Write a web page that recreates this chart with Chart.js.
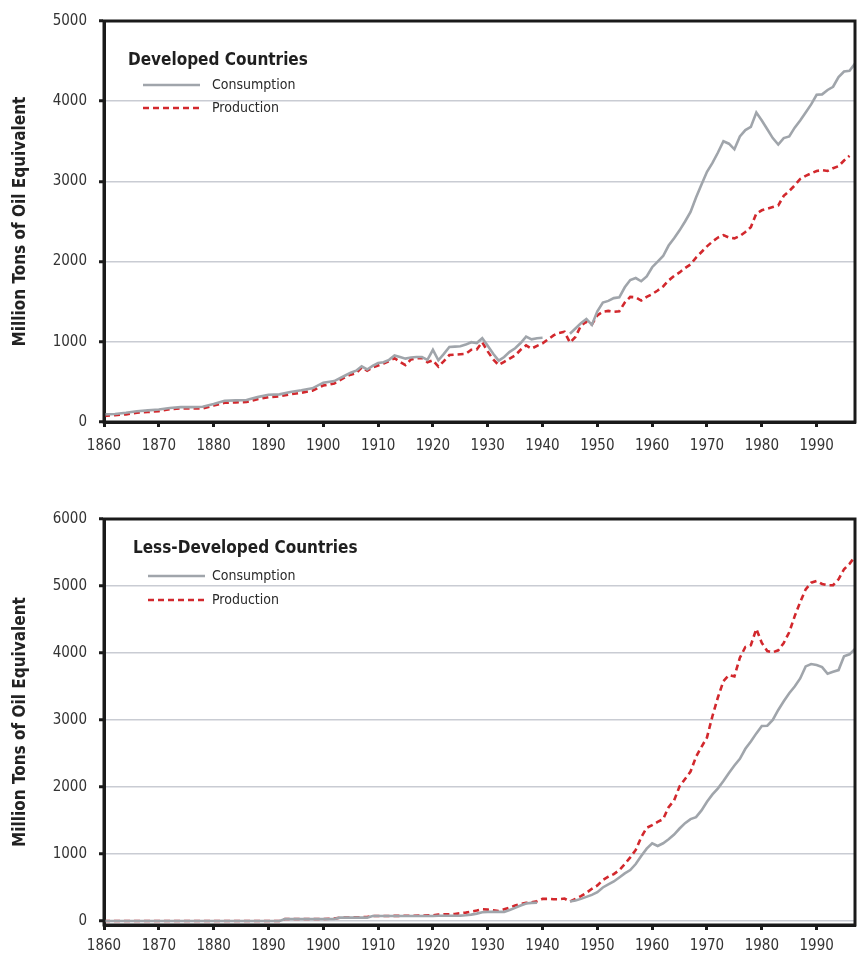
<!DOCTYPE html>
<html lang="en">
<head>
<meta charset="UTF-8">
<title>Energy Consumption and Production</title>
<script src="https://cdn.jsdelivr.net/npm/chart.js"></script>
<style>
  body { margin: 0; background: #fff; }
  .panel { position: relative; width: 859px; }
</style>
</head>
<body>
<div class="panel" style="height:480px"><canvas id="devChart" width="859" height="480"></canvas></div>
<div class="panel" style="height:474px"><canvas id="ldcChart" width="859" height="474"></canvas></div>

<script>
// Developed countries (million tons of oil equivalent)
const devYears = [1860,1862,1864,1866,1868,1870,1872,1874,1876,1878,1880,1882,1884,1886,1888,1890,1892,1894,1896,1898,1900,1902,1904,
  1905,1906,1907,1908,1909,1910,1911,1912,1913,1914,
  1915,1916,1917,1918,1919,1920,1921,1922,1923,1924,
  1925,1926,1927,1928,1929,1930,1931,1932,1933,1934,
  1935,1936,1937,1938,1939,1940,1941,1942,1943,1944,
  1945,1946,1947,1948,1949,1950,1951,1952,1953,1954,
  1955,1956,1957,1958,1959,1960,1961,1962,1963,1964,
  1965,1966,1967,1968,1969,1970,1971,1972,1973,1974,
  1975,1976,1977,1978,1979,1980,1981,1982,1983,1984,
  1985,1986,1987,1988,1989,1990,1991,1992,1993,1994,
  1995,1996,1997];
const devConsumption = [95,100,115,135,145,155,175,185,185,190,225,265,270,275,310,340,345,375,395,420,490,510,580,
  615,640,695,655,700,735,745,775,830,810,
  790,805,810,810,775,900,770,850,935,940,
  945,965,995,985,1045,950,850,765,810,875,
  920,985,1065,1030,1045,1050,null,null,null,null,
  1100,1165,1230,1285,1210,1380,1490,1510,1545,1555,
  1680,1770,1795,1755,1815,1930,2000,2070,2200,2290,
  2390,2500,2620,2800,2960,3120,3230,3360,3500,3470,
  3400,3560,3640,3680,3860,3760,3650,3540,3460,3540,
  3560,3670,3760,3860,3960,4080,4085,4140,4180,4300,
  4370,4380,4470];
const devProduction = [75,85,95,115,125,135,160,170,170,170,205,240,245,250,285,310,320,345,365,390,455,480,560,
  590,610,680,640,680,705,730,760,795,750,
  710,780,795,800,745,770,690,760,835,840,
  845,850,900,905,995,880,780,710,750,790,
  830,900,955,915,950,980,1030,1080,1110,1125,
  990,1060,1200,1250,1215,1330,1375,1385,1375,1380,
  1490,1560,1555,1515,1560,1595,1640,1690,1765,1820,
  1865,1920,1965,2050,2120,2190,2250,2300,2330,2300,
  2290,2320,2370,2430,2600,2640,2660,2680,2700,2820,
  2880,2950,3030,3070,3100,3130,3140,3130,3165,3190,
  3260,3320,null];

// Less-developed countries
const ldcYears = [1860,1865,1870,1875,1880,1885,1890,1892,1893,1896,1900,1902,1903,1906,1908,1909,1912,1915,1918,1920,
  1921,1922,1923,1924,1925,1926,1927,1928,1929,1930,
  1931,1932,1933,1934,1935,1936,1937,1938,1939,1940,
  1941,1942,1943,1944,1945,1946,1947,1948,1949,1950,
  1951,1952,1953,1954,1955,1956,1957,1958,1959,1960,
  1961,1962,1963,1964,1965,1966,1967,1968,1969,1970,
  1971,1972,1973,1974,1975,1976,1977,1978,1979,1980,
  1981,1982,1983,1984,1985,1986,1987,1988,1989,1990,
  1991,1992,1993,1994,1995,1996,1997];
const ldcConsumption = [0,0,0,0,0,0,0,0,30,30,30,30,50,50,50,75,75,75,75,75,
  77,77,77,78,80,85,95,110,130,136,
  136,136,136,165,195,230,262,270,273,null,
  null,null,null,null,290,305,330,360,390,430,
  500,545,590,650,710,760,850,970,1080,1160,
  1120,1160,1220,1290,1380,1460,1520,1550,1650,1780,
  1890,1980,2090,2210,2320,2420,2570,2680,2800,2910,
  2915,3000,3150,3280,3400,3500,3620,3800,3836,3820,
  3790,3690,3720,3745,3950,3980,4060];
const ldcProduction = [0,0,0,0,0,0,0,0,30,30,30,35,50,55,60,75,75,78,80,85,
  95,100,100,105,115,125,140,155,175,170,
  160,150,175,200,230,255,270,280,295,330,
  330,325,325,335,290,330,370,420,480,530,
  610,660,700,760,850,950,1060,1250,1390,1430,
  1480,1520,1700,1800,2010,2120,2230,2450,2600,2740,
  3060,3340,3580,3670,3650,3930,4090,4117,4360,4150,
  4030,4010,4040,4150,4310,4550,4760,4950,5050,5075,
  5030,5012,5012,5100,5250,5330,5440];

const seriesNames = ['Consumption', 'Production'];
const xTicks = [1860, 1870, 1880, 1890, 1900, 1910, 1920, 1930, 1940, 1950, 1960, 1970, 1980, 1990];
const devTicks = [0, 1000, 2000, 3000, 4000, 5000];
const ldcTicks = [0, 1000, 2000, 3000, 4000, 5000, 6000];

const FONT = "'Liberation Sans Narrow', 'DejaVu Sans Condensed', 'Roboto Condensed', sans-serif";
const GRAY = '#a0a5ab';
const RED = '#d2282d';

function toPoints(xs, ys) {
  return xs.map((x, i) => ({ x: x, y: ys[i] }));
}

// draws the box frame and the inside legend
const frameLegend = {
  id: 'frameLegend',
  afterDraw(chart, args, opts) {
    const ctx = chart.ctx;
    const a = chart.chartArea;
    ctx.save();
    ctx.strokeStyle = '#1a1a1a';
    ctx.lineWidth = 3;
    ctx.strokeRect(a.left, a.top, a.right - a.left, a.bottom - a.top);

    ctx.fillStyle = '#1f1f1f';
    ctx.textBaseline = 'middle';
    ctx.font = 'bold 17px ' + FONT;
    ctx.fillText(opts.title, opts.x, opts.titleY);
    ctx.font = '14px ' + FONT;
    chart.data.datasets.forEach((ds, i) => {
      const y = opts.rows[i];
      ctx.strokeStyle = ds.borderColor;
      ctx.lineWidth = 2.5;
      ctx.setLineDash(ds.borderDash || []);
      ctx.beginPath();
      ctx.moveTo(opts.lineX, y);
      ctx.lineTo(opts.lineX + 57, y);
      ctx.stroke();
      ctx.setLineDash([]);
      ctx.fillStyle = '#2a2a2a';
      ctx.fillText(ds.label, 212, y);
    });
    ctx.restore();
  }
};

function makeChart(id, years, cons, prod, yMin, yMax, yTicks, pad, axisH, labelPad, legend) {
  return new Chart(document.getElementById(id), {
    type: 'line',
    data: {
      datasets: [{
        label: seriesNames[0],
        data: toPoints(years, cons),
        borderColor: GRAY,
        borderWidth: 2.6,
        pointRadius: 0,
        tension: 0,
        spanGaps: false
      }, {
        label: seriesNames[1],
        data: toPoints(years, prod),
        borderColor: RED,
        borderWidth: 2.6,
        borderDash: [6, 4],
        pointRadius: 0,
        tension: 0,
        spanGaps: false
      }]
    },
    options: {
      responsive: false,
      animation: false,
      layout: { padding: pad },
      plugins: {
        legend: { display: false },
        tooltip: { enabled: false },
        frameLegend: legend
      },
      scales: {
        x: {
          type: 'linear',
          min: 1860,
          max: 1997,
          afterBuildTicks: s => { s.ticks = xTicks.map(v => ({ value: v })); },
          afterFit: s => { s.height = axisH; },
          ticks: {
            padding: labelPad,
            color: '#333',
            font: { family: FONT, size: 15 },
            callback: v => String(v)
          },
          grid: {
            drawOnChartArea: false,
            tickLength: 5,
            tickWidth: 3,
            tickColor: '#1a1a1a'
          },
          border: { color: '#1a1a1a', width: 3 }
        },
        y: {
          min: yMin,
          max: yMax,
          afterBuildTicks: s => { s.ticks = yTicks.map(v => ({ value: v })); },
          afterFit: s => { s.width = 104; },
          ticks: {
            padding: 12,
            color: '#333',
            font: { family: FONT, size: 15 },
            callback: v => String(v)
          },
          grid: {
            color: '#c9ccd3',
            lineWidth: 1.5,
            tickLength: 5,
            tickWidth: 3,
            tickColor: '#1a1a1a'
          },
          border: { color: '#1a1a1a', width: 3 },
          title: {
            display: true,
            text: 'Million Tons of Oil Equivalent',
            color: '#222',
            font: { family: FONT, size: 17, weight: 'bold' },
            padding: { top: 10, bottom: 0 }
          }
        }
      }
    },
    plugins: [frameLegend]
  });
}

makeChart('devChart', devYears, devConsumption, devProduction, 0, 5000, devTicks,
  { top: 17, right: 4, bottom: 28, left: 0 }, 30, 10,
  { title: 'Developed Countries', x: 128, titleY: 61, lineX: 143, rows: [85, 108] });

makeChart('ldcChart', ldcYears, ldcConsumption, ldcProduction, -60, 6000, ldcTicks,
  { top: 39, right: 4, bottom: 0, left: 0 }, 29, 7,
  { title: 'Less-Developed Countries', x: 133, titleY: 69, lineX: 148, rows: [96, 120] });
</script>
</body>
</html>
